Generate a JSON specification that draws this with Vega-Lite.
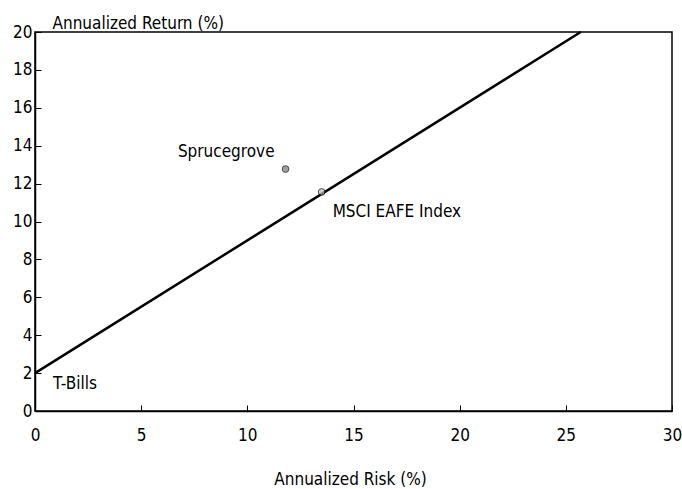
{
  "$schema": "https://vega.github.io/schema/vega-lite/v6.json",
  "width": 637,
  "height": 379,
  "autosize": "none",
  "padding": {"left": 35, "top": 32, "right": 10, "bottom": 78},
  "background": "white",
  "config": {
    "view": {"stroke": "black", "strokeWidth": 1.5},
    "font": "DejaVu Sans Condensed",
    "axis": {"labelFont": "DejaVu Sans Condensed", "titleFont": "DejaVu Sans Condensed", "labelColor": "black", "titleColor": "black", "domainColor": "black", "tickColor": "black", "grid": false, "labelFontSize": 17, "titleFontSize": 17, "titleFontWeight": "normal", "domainWidth": 1.5, "tickWidth": 1, "labelOverlap": false}
  },
  "datasets": {
    "cml": [
      {"risk": 0, "ret": 2},
      {"risk": 25.7, "ret": 20}
    ],
    "pts": [
      {"name": "Sprucegrove", "risk": 11.8, "ret": 12.77},
      {"name": "MSCI EAFE Index", "risk": 13.5, "ret": 11.56}
    ],
    "tb": [
      {"name": "T-Bills", "risk": 0, "ret": 2}
    ]
  },
  "layer": [
    {
      "data": {"name": "cml"},
      "mark": {"type": "line", "color": "black", "strokeWidth": 2.5},
      "encoding": {
        "x": {"field": "risk", "type": "quantitative", "scale": {"domain": [0, 30], "nice": false}, "axis": {"values": [0, 5, 10, 15, 20, 25, 30], "tickCount": 7, "tickSize": -6, "labelPadding": 22, "title": "Annualized Risk (%)", "titleX": 315, "titleY": 73, "titleBaseline": "alphabetic", "labelFlush": false}},
        "y": {"field": "ret", "type": "quantitative", "scale": {"domain": [0, 20], "nice": false}, "axis": {"values": [0, 2, 4, 6, 8, 10, 12, 14, 16, 18, 20], "tickCount": 11, "tickSize": -6, "labelPadding": 9, "title": "Annualized Return (%)", "titleAngle": 0, "titleX": 17, "titleY": -4, "titleAlign": "left", "titleBaseline": "alphabetic", "labelFlush": false}}
      }
    },
    {
      "data": {"name": "pts"},
      "mark": {"type": "point", "filled": true, "size": 45, "stroke": "black", "strokeWidth": 1},
      "encoding": {
        "x": {"field": "risk", "type": "quantitative"},
        "y": {"field": "ret", "type": "quantitative"},
        "fill": {"field": "name", "type": "nominal", "scale": {"domain": ["Sprucegrove", "MSCI EAFE Index"], "range": ["#777777", "#bbbbbb"]}, "legend": null}
      }
    },
    {
      "data": {"name": "pts"},
      "transform": [{"filter": "datum.name == 'Sprucegrove'"}],
      "mark": {"type": "text", "align": "right", "baseline": "middle", "dx": -11, "dy": -17, "fontSize": 17, "color": "black"},
      "encoding": {
        "x": {"field": "risk", "type": "quantitative"},
        "y": {"field": "ret", "type": "quantitative"},
        "text": {"field": "name"}
      }
    },
    {
      "data": {"name": "pts"},
      "transform": [{"filter": "datum.name == 'MSCI EAFE Index'"}],
      "mark": {"type": "text", "align": "left", "baseline": "middle", "dx": 11, "dy": 20, "fontSize": 17, "color": "black"},
      "encoding": {
        "x": {"field": "risk", "type": "quantitative"},
        "y": {"field": "ret", "type": "quantitative"},
        "text": {"field": "name"}
      }
    },
    {
      "data": {"name": "tb"},
      "mark": {"type": "text", "align": "left", "baseline": "middle", "dx": 18, "dy": 11, "fontSize": 17, "color": "black"},
      "encoding": {
        "x": {"field": "risk", "type": "quantitative"},
        "y": {"field": "ret", "type": "quantitative"},
        "text": {"field": "name"}
      }
    }
  ]
}
